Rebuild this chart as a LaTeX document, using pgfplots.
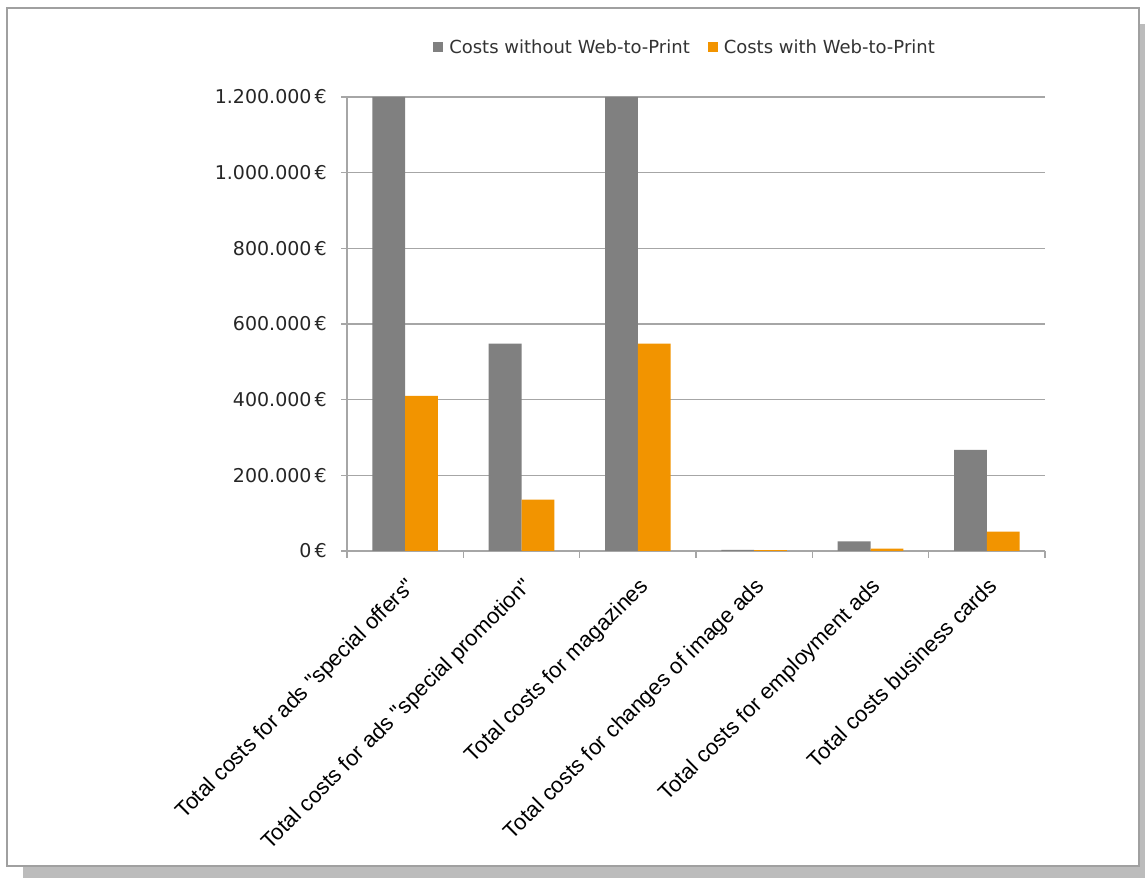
\documentclass[border=0pt]{standalone}
\usepackage{fontspec}
\setmainfont{Liberation Sans}[Ligatures=TeXOff]
\newfontfamily\djv{DejaVu Sans}
\usepackage{pgfplots}
\pgfplotsset{compat=1.18}
\definecolor{barGray}{RGB}{128,128,128}
\definecolor{barOrange}{RGB}{242,148,0}
\definecolor{gridGray}{RGB}{166,166,166}
\definecolor{frameGray}{RGB}{160,160,160}
\definecolor{shadowGray}{RGB}{188,188,188}
\begin{document}
\begin{tikzpicture}[x=1bp,y=1bp]
\useasboundingbox (0,0) rectangle (1145,878);
\fill[shadowGray] (23,0) rectangle (1145,854);
\filldraw[fill=white, draw=frameGray, line width=2bp] (7,12) rectangle (1138.5,870);
\begin{axis}[
  at={(347bp,327bp)}, anchor=south west,
  scale only axis, width=698bp, height=454bp,
  xmin=0, xmax=6, ymin=0, ymax=1200000,
  ybar=0pt, bar width=32.8bp,
  axis x line*=bottom, axis y line*=left,
  axis line style={gridGray, line width=1.5bp, -},
  xtick={0.5,1.5,2.5,3.5,4.5,5.5},
  xticklabels={Total costs for ads "special offers",Total costs for ads "special promotion",Total costs for magazines,Total costs for changes of image ads,Total costs for employment ads,Total costs business cards},
  minor xtick={0,1,2,3,4,5,6},
  major x tick style={draw=none},
  minor tick length=7bp,
  major tick length=6bp,
  tick align=outside,
  tick style={gridGray, line width=1.5bp},
  ytick={0,200000,400000,600000,800000,1000000,1200000},
  ymajorgrids, grid style={gridGray, line width=1.5bp},
  scaled y ticks=false,
  /pgf/number format/assume math mode=true,
  yticklabel={\pgfmathprintnumber[fixed,precision=0,1000 sep={.}]{\tick}\,€},
  yticklabel style={font=\djv\fontsize{19bp}{22bp}\selectfont, text=black!85, anchor=east, inner sep=0pt, xshift=-14bp},
  xticklabel style={font=\fontsize{22bp}{26bp}\selectfont, xshift=0bp, yshift=-19bp, rotate=45, anchor=north east, inner sep=0pt},
  legend style={at={(0.119,1.110)}, anchor=west, draw=none, fill=none, legend columns=2,
    font=\djv\fontsize{18bp}{21bp}\selectfont, text=black!80,
    /tikz/every odd column/.append style={column sep=4bp},
    /tikz/every even column/.append style={column sep=16bp}},
  legend image code/.code={\fill[#1] (0bp,-5bp) rectangle (10bp,5bp);},
]
\addplot[fill=barGray, draw=none] coordinates {(0.5,1200000) (1.5,548000) (2.5,1200000) (3.5,3000) (4.5,25500) (5.5,267500)};
\addplot[fill=barOrange, draw=none] coordinates {(0.5,410000) (1.5,136000) (2.5,548000) (3.5,2500) (4.5,6500) (5.5,51000)};
\legend{Costs without Web-to-Print,Costs with Web-to-Print}
\end{axis}
\end{tikzpicture}
\end{document}
